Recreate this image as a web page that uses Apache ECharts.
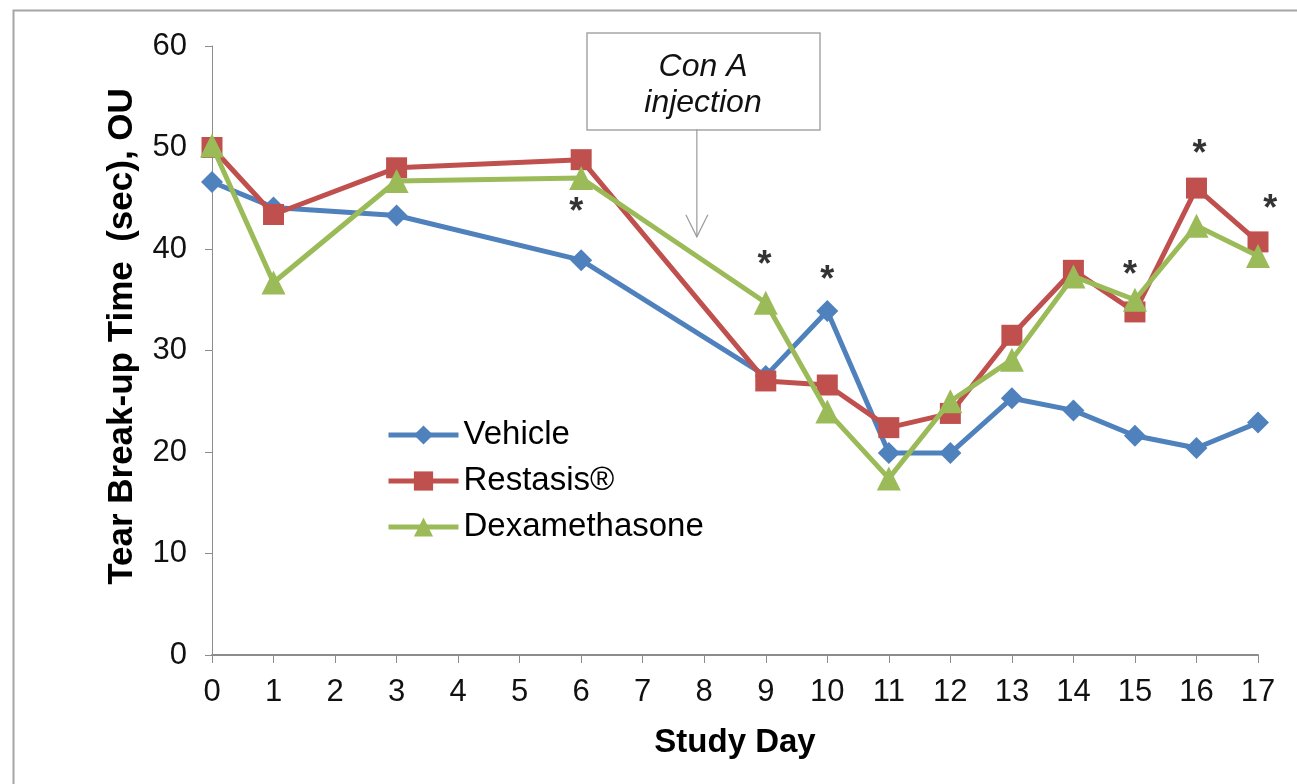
<!DOCTYPE html>
<html>
<head>
<meta charset="utf-8">
<script src="https://cdn.jsdelivr.net/npm/echarts@6/dist/echarts.min.js"></script>
<style>
  html, body { margin: 0; padding: 0; background: #fff; }
  #chart { width: 1297px; height: 784px; }
</style>
</head>
<body>
<div id="chart"></div>
<script>
const days = [0, 1, 3, 6, 9, 10, 11, 12, 13, 14, 15, 16, 17];
const vehicle = [46.6, 44.1, 43.3, 38.9, 27.5, 33.9, 19.9, 19.9, 25.3, 24.1, 21.6, 20.4, 22.9];
const restasis = [50.0, 43.4, 48.0, 48.8, 27.0, 26.6, 22.4, 23.8, 31.5, 37.9, 33.8, 46.0, 40.7];
const dexamethasone = [50.2, 36.7, 46.7, 47.0, 34.7, 24.0, 17.4, 25.0, 29.1, 37.3, 35.0, 42.3, 39.3];
const xTicks = [0,1,2,3,4,5,6,7,8,9,10,11,12,13,14,15,16,17];
const yTicks = [0,10,20,30,40,50,60];
// significance markers: [day, y position]
const stars = [[5.92, 44.3], [8.98, 39.1], [10.0, 37.6], [14.92, 38.1], [16.05, 50.0], [17.2, 44.6]];
const annotationText = ['Con A', 'injection'];

const font = '"Liberation Sans", Arial, sans-serif';
const chart = echarts.init(document.getElementById('chart'), null, { renderer: 'canvas' });

function pairs(vals) { return days.map((d, i) => [d, vals[i]]); }

const option = {
  animation: false,
  backgroundColor: '#fff',
  grid: { left: 212, right: 39, top: 46, bottom: 129, containLabel: false },
  xAxis: {
    type: 'value', min: 0, max: 17, interval: 1,
    name: 'Study Day', nameLocation: 'middle', nameGap: 71,
    nameTextStyle: { fontFamily: font, fontWeight: 'bold', fontSize: 33, color: '#000' },
    axisLine: { lineStyle: { color: '#8c8c8c', width: 2 } },
    axisTick: { show: true, length: 8, lineStyle: { color: '#8c8c8c', width: 1 } },
    axisLabel: { fontFamily: font, fontSize: 31, color: '#111', margin: 22,
      formatter: v => xTicks.includes(v) ? String(v) : '' },
    splitLine: { show: false }
  },
  yAxis: {
    type: 'value', min: 0, max: 60, interval: 10,
    name: 'Tear Break-up Time  (sec), OU', nameLocation: 'middle', nameGap: 72, nameRotate: 90,
    nameTextStyle: { fontFamily: font, fontWeight: 'bold', fontSize: 35, color: '#000', padding: [0, 0, 0, 28] },
    axisLine: { show: true, lineStyle: { color: '#8c8c8c', width: 1 } },
    axisTick: { show: true, length: 7, inside: false, lineStyle: { color: '#8c8c8c' } },
    axisLabel: { fontFamily: font, fontSize: 31, color: '#111', margin: 25,
      formatter: v => yTicks.includes(v) ? String(v) : '' },
    splitLine: { show: false }
  },
  legend: {
    orient: 'vertical', left: 386, top: 417, padding: 0, itemWidth: 70, itemHeight: 24, itemGap: 10,
    lineStyle: { width: 5 },
    textStyle: { fontFamily: font, fontSize: 33, color: '#000', lineHeight: 36 },
    data: ['Vehicle', 'Restasis®', 'Dexamethasone']
  },
  series: [
    { name: 'Vehicle', type: 'line', data: pairs(vehicle), symbol: 'diamond', symbolSize: 22,
      color: '#4F81BD', lineStyle: { width: 5, color: '#4F81BD' }, itemStyle: { color: '#4F81BD' }, z: 2 },
    { name: 'Restasis®', type: 'line', data: pairs(restasis), symbol: 'rect', symbolSize: 21,
      color: '#C0504D', lineStyle: { width: 5, color: '#C0504D' }, itemStyle: { color: '#C0504D' }, z: 3 },
    { name: 'Dexamethasone', type: 'line', data: pairs(dexamethasone), symbol: 'triangle', symbolSize: 24,
      color: '#9BBB59', lineStyle: { width: 5, color: '#9BBB59' }, itemStyle: { color: '#9BBB59' }, z: 4 },
    { name: 'stars', type: 'scatter', data: stars, symbolSize: 1, clip: false, itemStyle: { color: 'rgba(0,0,0,0)' },
      label: { show: true, position: 'inside', offset: [0, 8], formatter: '*', fontFamily: font, fontWeight: 'bold',
        fontSize: 36, color: '#000' }, z: 5, silent: true }
  ]
};
chart.setOption(option);

// annotation: box with arrow to day ~7.9
const arrowX = chart.convertToPixel({ xAxisIndex: 0 }, 7.88);
const arrowTop = chart.convertToPixel({ yAxisIndex: 0 }, 51.8);
const arrowTip = chart.convertToPixel({ yAxisIndex: 0 }, 41.2);
chart.setOption({
  graphic: [
    { type: 'rect', left: 11, top: 8, shape: { x: 0, y: 0, width: 1300, height: 800 },
      style: { fill: 'none', stroke: '#a6a6a6', lineWidth: 2 }, z: -10, silent: true },
    { type: 'rect', shape: { x: 587, y: 33, width: 233, height: 97 },
      style: { fill: '#fff', stroke: '#a6a6a6', lineWidth: 1.5 }, z: 10 },
    { type: 'text', x: 703, y: 67, style: { text: annotationText[0], fontFamily: font, fontStyle: 'italic',
      fontSize: 32, fill: '#111', align: 'center', verticalAlign: 'middle' }, z: 11 },
    { type: 'text', x: 703, y: 103, style: { text: annotationText[1], fontFamily: font, fontStyle: 'italic',
      fontSize: 32, fill: '#111', align: 'center', verticalAlign: 'middle' }, z: 11 },
    { type: 'line', shape: { x1: arrowX, y1: arrowTop, x2: arrowX, y2: arrowTip },
      style: { stroke: '#9a9a9a', lineWidth: 1.2 }, z: 11 },
    { type: 'polyline', shape: { points: [[arrowX - 11, arrowTip - 22], [arrowX, arrowTip], [arrowX + 11, arrowTip - 22]] },
      style: { stroke: '#9a9a9a', lineWidth: 1.2, fill: 'none' }, z: 11 }
  ]
});
</script>
</body>
</html>
